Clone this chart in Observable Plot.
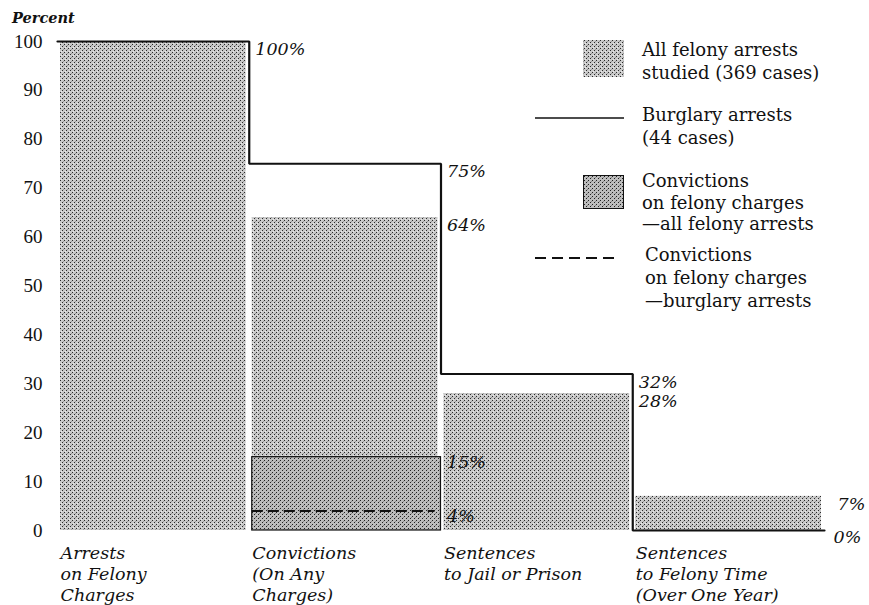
<!DOCTYPE html>
<html><head><meta charset="utf-8">
<script src="https://cdn.jsdelivr.net/npm/d3@7"></script>
<script src="https://cdn.jsdelivr.net/npm/@observablehq/plot@0.6"></script>
<style>
body{margin:0;background:#fff;}
#wrap{position:relative;width:869px;height:605px;overflow:hidden;background:#fff;}
#wrap svg{display:block;}
.lg{position:absolute;font-family:"DejaVu Serif";font-size:18px;line-height:23px;color:#111;white-space:pre;}
.ylab{position:absolute;left:12px;top:9px;font-family:"DejaVu Serif";font-style:italic;font-weight:bold;font-size:14.5px;color:#111;}
</style></head><body>
<svg width="0" height="0" style="position:absolute">
<defs>
<pattern id="stip" width="4" height="4" patternUnits="userSpaceOnUse">
<rect width="4" height="4" fill="#c9c9c9"/>
<rect x="0" y="0" width="1" height="1" fill="#2a2a2a"/>
<rect x="2" y="2" width="1" height="1" fill="#2a2a2a"/>
<rect x="1" y="3" width="1" height="1" fill="#e8e8e8"/>
<rect x="3" y="1" width="1" height="1" fill="#9a9a9a"/>
</pattern>
<pattern id="stipDark" width="4" height="4" patternUnits="userSpaceOnUse">
<rect width="4" height="4" fill="#bdbdbd"/>
<rect x="0" y="0" width="1" height="1" fill="#222"/>
<rect x="2" y="2" width="1" height="1" fill="#222"/>
<rect x="3" y="1" width="1" height="1" fill="#8a8a8a"/>
</pattern>
</defs></svg>
<div id="wrap"></div>
<script>
// ---- data ----
const stages = ["Arrests\non Felony\nCharges", "Convictions\n(On Any\nCharges)", "Sentences\nto Jail or Prison", "Sentences\nto Felony Time\n(Over One Year)"];
const allFelonyPct = [100, 64, 28, 7];      // All felony arrests studied (369 cases)
const burglaryPct = [100, 75, 32, 0];       // Burglary arrests (44 cases)
const felonyConvAllPct = 15;                // Convictions on felony charges - all felony arrests
const felonyConvBurglaryPct = 4;            // Convictions on felony charges - burglary arrests
const convStageIndex = 1;
const yTicks = [0, 10, 20, 30, 40, 50, 60, 70, 80, 90, 100];
const legendLabels = [
  "All felony arrests\nstudied (369 cases)",
  "Burglary arrests\n(44 cases)",
  "Convictions\non felony charges\n\u2014all felony arrests",
  "Convictions\non felony charges\n\u2014burglary arrests"
];

// ---- derived tables ----
const idx = d3.range(stages.length);
const bars = idx.map(i => ({x1: i, x2: i + 1, y: allFelonyPct[i]}));
const steps = idx.map(i => ({x: i, y: burglaryPct[i]}))
  .concat([{x: stages.length, y: burglaryPct[stages.length - 1]}]);
const convBox = [{x1: convStageIndex, x2: convStageIndex + 1, y: felonyConvAllPct}];
const convRule = [{x1: convStageIndex, x2: convStageIndex + 1, y: felonyConvBurglaryPct}];
const last = stages.length - 1;
const pctLabels = [];
idx.forEach(i => {
  pctLabels.push({x: i + 1, y: burglaryPct[i], t: burglaryPct[i] + "%", end: i === last});
  if (allFelonyPct[i] !== burglaryPct[i]) pctLabels.push({x: i + 1, y: allFelonyPct[i], t: allFelonyPct[i] + "%", end: i === last, all: true});
});
const convLabels = [
  {x: convStageIndex + 1, y: felonyConvAllPct, t: felonyConvAllPct + "%"},
  {x: convStageIndex + 1, y: felonyConvBurglaryPct, t: felonyConvBurglaryPct + "%"}
];

const pctFont = {fontFamily: "DejaVu Serif", fontStyle: "italic", fontSize: 17.5, fill: "#111"};

const chart = Plot.plot({
  width: 869, height: 605,
  marginLeft: 57, marginRight: 45, marginTop: 41, marginBottom: 75,
  x: {domain: [0, stages.length], axis: null},
  y: {domain: [0, 100], ticks: yTicks, tickSize: 0, tickPadding: 15, label: null},
  style: {fontFamily: "Liberation Serif", fontSize: "19px", color: "#111", background: "transparent"},
  marks: [
    Plot.rectY(bars, {x1: "x1", x2: "x2", y: "y", fill: "url(#stip)", insetLeft: 3, insetRight: 3}),
    Plot.rectY(convBox, {x1: "x1", x2: "x2", y: "y", fill: "url(#stipDark)", stroke: "#111", strokeWidth: 1.2, insetLeft: 3}),
    Plot.ruleY(convRule, {x1: "x1", x2: "x2", y: "y", stroke: "#111", strokeWidth: 2, strokeDasharray: "11,5", insetLeft: 3, insetRight: 6}),
    Plot.line(steps, {x: "x", y: "y", curve: "step-after", stroke: "#111", strokeWidth: 2.2, strokeLinejoin: "miter"}),
    Plot.text(pctLabels.filter(d => !d.end), {x: "x", y: "y", text: "t", textAnchor: "start", dx: 6, dy: 8, ...pctFont}),
    Plot.text(pctLabels.filter(d => d.end && d.all), {x: "x", y: "y", text: "t", textAnchor: "start", dx: 13, dy: 8, ...pctFont}),
    Plot.text(pctLabels.filter(d => d.end && !d.all), {x: "x", y: "y", text: "t", textAnchor: "start", dx: 9, dy: 7, ...pctFont}),
    Plot.text(convLabels, {x: "x", y: "y", text: "t", textAnchor: "start", dx: 6, ...pctFont, dy: 5}),
    Plot.text(idx, {x: i => i, y: () => 0, text: i => stages[i], textAnchor: "start", lineAnchor: "top",
      dx: 3, dy: 14, lineHeight: 1.2, fontFamily: "DejaVu Serif", fontStyle: "italic", fontSize: 17.5, fill: "#111"})
  ]
});

const wrap = document.getElementById("wrap");
wrap.appendChild(chart);

const yl = document.createElement("div");
yl.className = "ylab";
yl.textContent = "Percent";
wrap.appendChild(yl);

// ---- legend ----
const legendTops = [38, 103, 170, 243];
const legendLefts = [642, 642, 642, 645];
legendLabels.forEach((t, i) => {
  const d = document.createElement("div");
  d.className = "lg";
  d.style.left = legendLefts[i] + "px";
  d.style.top = legendTops[i] + "px";
  if (i === 2) d.style.lineHeight = "21.5px";
  d.textContent = t;
  wrap.appendChild(d);
});
const sw = d3.select(wrap).append("svg")
  .attr("width", 869).attr("height", 605)
  .style("position", "absolute").style("left", "0px").style("top", "0px").style("pointer-events", "none");
sw.append("rect").attr("x", 583).attr("y", 40).attr("width", 41).attr("height", 37).attr("fill", "url(#stip)");
sw.append("line").attr("x1", 535).attr("x2", 624).attr("y1", 118).attr("y2", 118).attr("stroke", "#111").attr("stroke-width", 1.6);
sw.append("rect").attr("x", 583.5).attr("y", 175.5).attr("width", 40).attr("height", 33).attr("fill", "url(#stipDark)").attr("stroke", "#111").attr("stroke-width", 1);
sw.append("line").attr("x1", 535).attr("x2", 618).attr("y1", 258).attr("y2", 258).attr("stroke", "#111").attr("stroke-width", 1.8).attr("stroke-dasharray", "11,6");
</script>
</body></html>
